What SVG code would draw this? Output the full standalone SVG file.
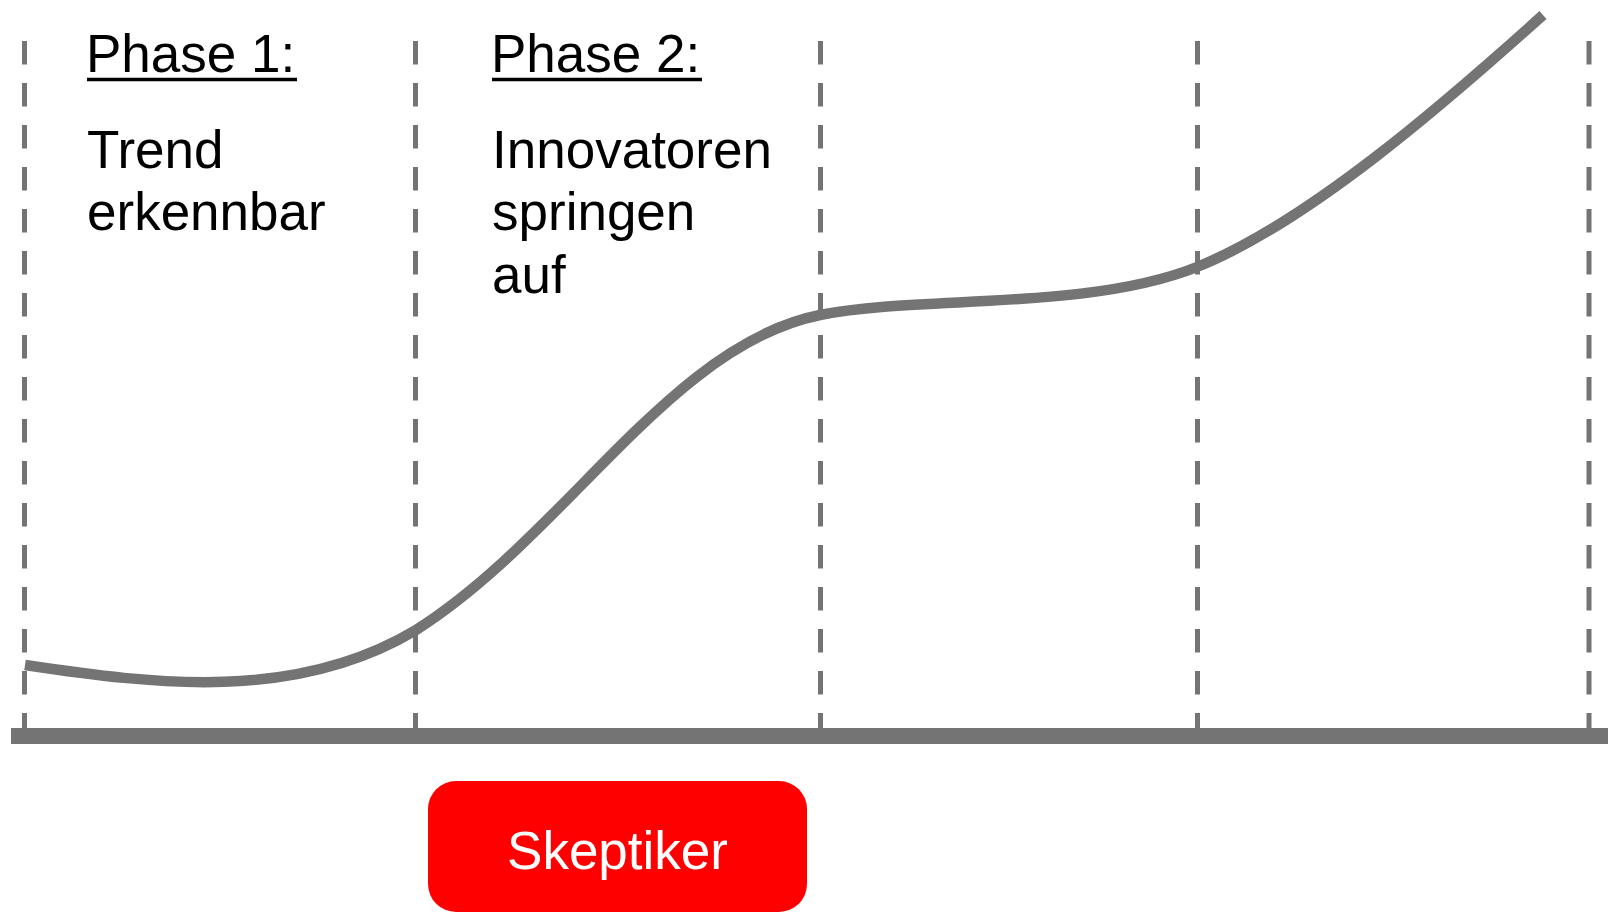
<svg xmlns="http://www.w3.org/2000/svg" width="1608" height="914" viewBox="0 0 1608 914">
<style>
.dash{stroke:#747474;stroke-width:5;stroke-dasharray:23.5 18.5;fill:none}
.t{font-family:"Liberation Sans",Arial,sans-serif;font-size:53px;fill:#000}
.u{stroke:#000;stroke-width:3.5}
</style>
<rect width="1608" height="914" fill="#fff"/>
<g id="connectors">
<line class="dash" x1="24.5" y1="41" x2="24.5" y2="736"/>
<line class="dash" x1="415.5" y1="41" x2="415.5" y2="736"/>
<line class="dash" x1="820.5" y1="41" x2="820.5" y2="736"/>
<line class="dash" x1="1197.5" y1="41" x2="1197.5" y2="736"/>
<line class="dash" x1="1589" y1="41" x2="1589" y2="736"/>
<rect x="11" y="728" width="1597" height="16" fill="#747474"/>
<path d="M25,665 C155,684.5 296,702 416,630 C566,535 670,345 820,315 C920,295 1087,311 1197,267 C1307,223 1443,105 1543,15" fill="none" stroke="#747474" stroke-width="10.5"/>
</g>
<g id="phase1">
<text class="t" x="86" y="72">Phase 1:</text>
<line class="u" x1="87" y1="79.5" x2="297" y2="79.5"/>
<text class="t" x="87" y="168">Trend</text>
<text class="t" x="87" y="230">erkennbar</text>
</g>
<g id="phase2">
<text class="t" x="491" y="72">Phase 2:</text>
<line class="u" x1="492" y1="79.5" x2="702" y2="79.5"/>
<text class="t" x="492" y="168">Innovatoren</text>
<text class="t" x="492" y="230">springen</text>
<text class="t" x="492" y="293">auf</text>
</g>
<g id="skeptiker">
<rect x="428" y="781" width="379" height="131" rx="28" fill="#ff0000"/>
<text class="t" x="617.5" y="869" text-anchor="middle" style="fill:#fff">Skeptiker</text>
</g>
</svg>
